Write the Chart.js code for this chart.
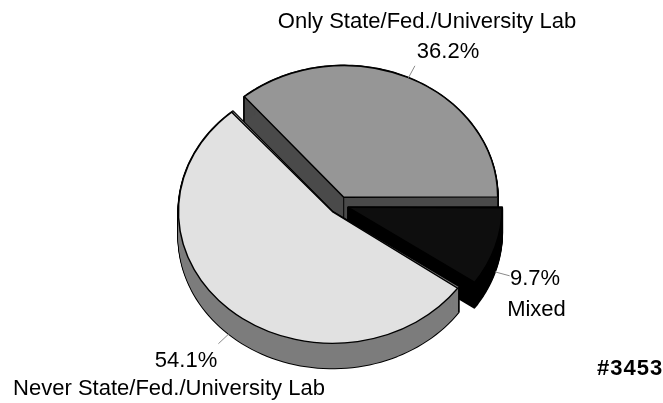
<!DOCTYPE html>
<html><head><meta charset="utf-8">
<style>html,body{margin:0;padding:0;background:#fff}#wrap{width:663px;height:403px}</style>
<script src="https://cdn.jsdelivr.net/npm/chart.js@4"></script>
</head><body><div id="wrap"><canvas id="c" width="663" height="403"></canvas></div>
<script>
const categories = ['Only State/Fed./University Lab', 'Mixed', 'Never State/Fed./University Lab'];
const shares = [36.2, 9.7, 54.1];
const topColors = ['#969696', '#0e0e0e', '#e1e1e1'];
const sideColors = ['#4a4a4a', '#000000', '#7c7c7c'];
const explode = [40, 36, 42];
const stamp = '#3453';

const SQUASH = 0.855, DEPTH = 25;
const FONT = '22px "Liberation Sans", Arial, sans-serif';

function sector(ctx, a, cx, cy) {
  const r = a.outerRadius, n = 90;
  ctx.beginPath();
  ctx.moveTo(cx, cy);
  for (let i = 0; i <= n; i++) {
    const t = a.startAngle + (a.endAngle - a.startAngle) * i / n;
    ctx.lineTo(cx + Math.cos(t) * r, cy + Math.sin(t) * r * SQUASH);
  }
  ctx.closePath();
}
function geom(a) {
  const mid = (a.startAngle + a.endAngle) / 2, off = a.options.offset / 4;
  return {mid, cx: a.x + Math.cos(mid) * off, cy: a.y + Math.sin(mid) * off * SQUASH};
}
const pie3d = {
  id: 'pie3d',
  beforeDatasetDraw(chart) {
    const ctx = chart.ctx, arcs = chart.getDatasetMeta(0).data;
    arcs.forEach((a, idx) => {
      const {cx, cy} = geom(a), r = a.outerRadius;
      ctx.save();
      ctx.lineJoin = 'round';
      ctx.strokeStyle = '#000'; ctx.lineWidth = 2;
      for (let d = 0; d <= DEPTH; d++) { sector(ctx, a, cx, cy + d); ctx.stroke(); }
      ctx.fillStyle = sideColors[idx];
      for (let d = 0; d <= DEPTH; d++) { sector(ctx, a, cx, cy + d); ctx.fill(); }
      ctx.strokeStyle = '#000'; ctx.lineWidth = 1;
      [a.startAngle, a.endAngle].forEach(t => {
        const x = cx + Math.cos(t) * r, y = cy + Math.sin(t) * r * SQUASH;
        ctx.beginPath(); ctx.moveTo(x, y); ctx.lineTo(x, y + DEPTH); ctx.stroke();
      });
      ctx.beginPath(); ctx.moveTo(cx, cy); ctx.lineTo(cx, cy + DEPTH); ctx.stroke();
      ctx.restore();
      ctx.save();
      ctx.translate(a.x, a.y); ctx.scale(1, SQUASH); ctx.translate(-a.x, -a.y);
      // Arc.draw grows the radius by offset/4 * (1 - sin(sweep)); cancel it so the top meets the rim
      const sweep = Math.min(Math.PI, a.endAngle - a.startAngle);
      const grow = a.options.offset / 4 * (1 - Math.sin(sweep));
      a.outerRadius = r - grow;
      a.draw(ctx);
      a.outerRadius = r;
      ctx.restore();
    });
    return false;
  },
  afterDraw(chart) {
    const ctx = chart.ctx, arcs = chart.getDatasetMeta(0).data;
    ctx.save();
    ctx.strokeStyle = '#8a8a8a'; ctx.lineWidth = 1;
    arcs.forEach((a, idx) => {
      const {mid, cx, cy} = geom(a);
      const d = idx === 0 ? 0 : DEPTH, r = a.outerRadius;
      ctx.beginPath();
      ctx.moveTo(cx + Math.cos(mid) * r, cy + d + Math.sin(mid) * r * SQUASH);
      ctx.lineTo(cx + Math.cos(mid) * r * 1.1, cy + d + Math.sin(mid) * r * 1.1 * SQUASH);
      ctx.stroke();
    });
    ctx.fillStyle = '#000'; ctx.textBaseline = 'alphabetic'; ctx.textAlign = 'center';
    ctx.font = FONT;
    ctx.fillText(categories[0], 427, 28);
    ctx.fillText(shares[0] + '%', 448, 58);
    ctx.fillText(shares[1] + '%', 535, 285);
    ctx.fillText(categories[1], 536.5, 316);
    ctx.fillText(shares[2] + '%', 186, 367);
    ctx.fillText(categories[2], 169, 395);
    ctx.font = 'bold 22px "Liberation Sans", Arial, sans-serif'; ctx.letterSpacing = '1px';
    ctx.textAlign = 'left';
    ctx.fillText(stamp, 597, 375);
    ctx.restore();
  }
};
new Chart(document.getElementById('c'), {
  type: 'pie',
  data: {labels: categories, datasets: [{
    data: shares, backgroundColor: topColors, borderColor: '#000', borderWidth: 1.5, offset: explode
  }]},
  options: {
    responsive: false, animation: false, rotation: -40.3, radius: 154,
    layout: {padding: {left: 16, top: 7}},
    plugins: {legend: {display: false}, tooltip: {enabled: false}}
  },
  plugins: [pie3d]
});
</script></body></html>
